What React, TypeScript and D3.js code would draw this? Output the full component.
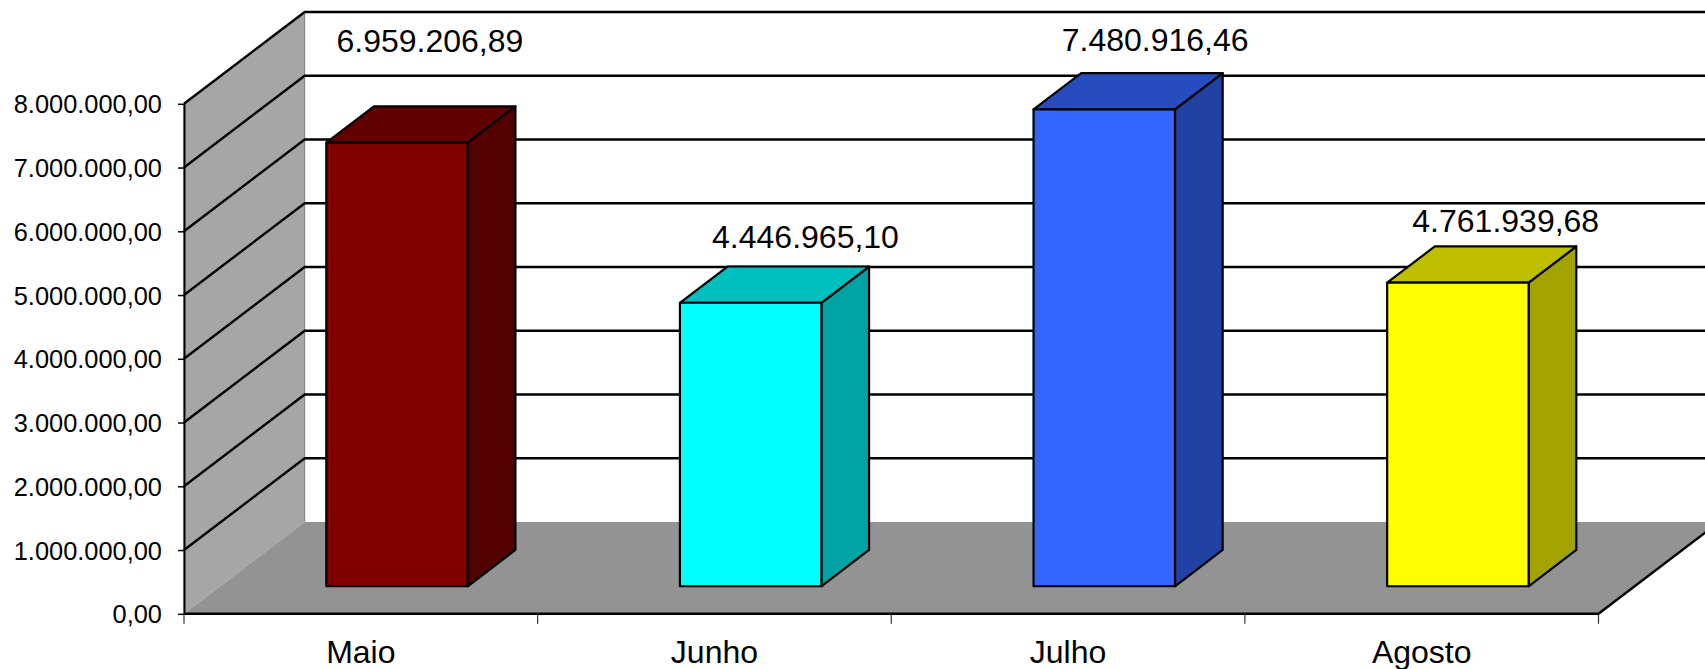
import React, { useRef, useEffect } from 'react';
import * as d3 from 'd3';

const months = ['Maio', 'Junho', 'Julho', 'Agosto'];
const values = [6959206.89, 4446965.1, 7480916.46, 4761939.68];
const valueLabels = ['6.959.206,89', '4.446.965,10', '7.480.916,46', '4.761.939,68'];
const yTicks = [0, 1000000, 2000000, 3000000, 4000000, 5000000, 6000000, 7000000, 8000000];
const frontColors = ['#800000', '#00ffff', '#3366ff', '#ffff00'];
const topColors = ['#600000', '#00bfbf', '#264cbf', '#bfbf00'];
const sideColors = ['#520000', '#00a3a3', '#2141a3', '#a3a300'];
// labels were dragged by hand in the original, so each has its own lift
const labelLift = [91, 55, 58, 51];
const labelShift = [9, 31, 27, 24];

const fmtTick = (d: number) =>
  d3.format(',.2f')(d).replace(/,/g, '#').replace('.', ',').replace(/#/g, '.');

const App: React.FC = () => {
  const ref = useRef<SVGSVGElement | null>(null);

  useEffect(() => {
    if (!ref.current) return;
    const svg = d3.select(ref.current);
    svg.selectAll('*').remove();

    const width = 1705;
    const height = 669;
    const left = 184;
    const right = 1598.5;
    const bottom = 613.8;
    const top = 103.8;
    const depthX = 120.7;
    const depthY = 91.8;
    const font = '"Liberation Sans", Arial, sans-serif';

    const x = d3.scaleBand<string>().domain(months).range([left, right]).paddingInner(0.6).paddingOuter(0.3);
    const bandStep = (right - left) / months.length;
    const barW = bandStep * 0.4;
    const y = d3.scaleLinear().domain([0, 8000000]).range([bottom, top]);

    // depth position: 0 is the front edge of the floor, 1 the back wall
    const px = (v: number, d: number) => v + d * depthX;
    const py = (v: number, d: number) => y(v) - d * depthY;
    const line = d3.line();

    const barFront = 0.3;
    const barBack = 0.695;
    const barX = (i: number) => left + bandStep * i + (bandStep - barW) / 2;

    // walls and floor
    svg.append('path')
      .attr('d', line([[left, bottom], [left, top], [px(left, 1), py(8000000, 1)], [px(left, 1), py(0, 1)]]))
      .attr('fill', '#a6a6a6')
      .attr('stroke', '#808080')
      .attr('stroke-width', 1);
    svg.append('path')
      .attr('d', line([[left, bottom], [right, bottom], [px(right, 1), py(0, 1)], [px(left, 1), py(0, 1)]]))
      .attr('fill', '#939393');

    // gridlines
    const grid = svg.append('g').attr('fill', 'none').attr('stroke', '#000').attr('stroke-width', 2.4);
    yTicks.filter(d => d > 0).forEach(d => {
      grid.append('path').attr('d', line([[left, y(d)], [px(left, 1), py(d, 1)], [px(right, 1), py(d, 1)]]));
    });

    // floor front and right edges
    svg.append('path')
      .attr('d', line([[left, bottom], [right, bottom], [px(right, 1), py(0, 1)]]))
      .attr('fill', 'none')
      .attr('stroke', '#000')
      .attr('stroke-width', 2.5);

    const yAxis = svg.append('g')
      .attr('transform', `translate(${left},0)`)
      .call(d3.axisLeft(y).tickValues(yTicks).tickSize(6).tickSizeOuter(0).tickFormat(d => fmtTick(+d)));
    yAxis.select('.domain').attr('stroke-width', 2);
    yAxis.selectAll('.tick line').attr('stroke-width', 1.5);
    yAxis.selectAll('.tick text')
      .attr('x', -22)
      .attr('dy', '0.36em')
      .attr('font-family', font)
      .attr('font-size', 25.4)
      .attr('fill', '#000');

    const xAxis = svg.append('g')
      .attr('transform', `translate(0,${bottom})`)
      .call(d3.axisBottom(x).tickSize(0).tickPadding(26.5));
    xAxis.select('.domain').remove();
    xAxis.selectAll('.tick text')
      .attr('font-family', font)
      .attr('font-size', 32)
      .attr('fill', '#000');

    const xTicks = svg.append('g').attr('stroke', '#333').attr('stroke-width', 1.2);
    d3.range(months.length + 1).forEach(i => {
      const tx = left + bandStep * i;
      xTicks.append('line').attr('x1', tx).attr('x2', tx).attr('y1', bottom).attr('y2', bottom + 10);
    });

    // bars
    const bars = svg.append('g').attr('stroke', '#000').attr('stroke-width', 2.2).attr('stroke-linejoin', 'round');
    months.forEach((_, i) => {
      const x0 = barX(i);
      const x1 = x0 + barW;
      const v = values[i];
      bars.append('path')
        .attr('fill', sideColors[i])
        .attr('d', line([
          [px(x1, barFront), py(0, barFront)],
          [px(x1, barBack), py(0, barBack)],
          [px(x1, barBack), py(v, barBack)],
          [px(x1, barFront), py(v, barFront)],
        ]) + 'Z');
      bars.append('path')
        .attr('fill', topColors[i])
        .attr('d', line([
          [px(x0, barFront), py(v, barFront)],
          [px(x0, barBack), py(v, barBack)],
          [px(x1, barBack), py(v, barBack)],
          [px(x1, barFront), py(v, barFront)],
        ]) + 'Z');
      bars.append('path')
        .attr('fill', frontColors[i])
        .attr('d', line([
          [px(x0, barFront), py(0, barFront)],
          [px(x0, barFront), py(v, barFront)],
          [px(x1, barFront), py(v, barFront)],
          [px(x1, barFront), py(0, barFront)],
        ]) + 'Z');
    });

    svg.append('g')
      .selectAll('text')
      .data(months)
      .join('text')
      .attr('x', (_, i) => px(barX(i) + barW / 2, (barFront + barBack) / 2) + labelShift[i])
      .attr('y', (_, i) => py(values[i], barFront) - labelLift[i])
      .attr('text-anchor', 'middle')
      .attr('font-family', font)
      .attr('font-size', 32)
      .attr('fill', '#000')
      .text((_, i) => valueLabels[i]);

    svg.attr('width', width).attr('height', height);
  }, []);

  return <svg ref={ref} style={{ position: 'absolute', left: 0, top: 0, background: '#fff' }} />;
};

export default App;
